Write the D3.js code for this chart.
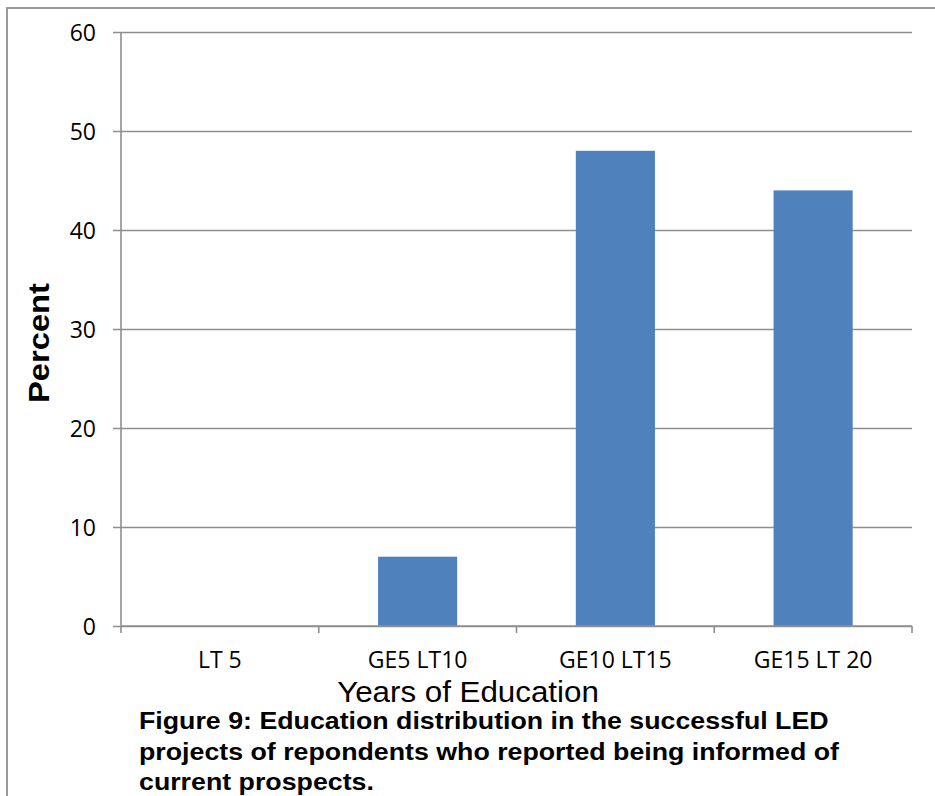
<!DOCTYPE html>
<html>
<head>
<meta charset="utf-8">
<script src="https://cdn.jsdelivr.net/npm/d3@7"></script>
<style>
  html, body { margin: 0; padding: 0; background: #fff; }
  svg { display: block; }
</style>
</head>
<body>
<svg id="chart" width="935" height="796"></svg>
<script>
// Education distribution (percent of respondents)
const categories = ["LT 5", "GE5 LT10", "GE10 LT15", "GE15 LT 20"];
const percentValues = [0, 7, 48, 44];
const yTicks = [0, 10, 20, 30, 40, 50, 60];
const xTitle = "Years of Education";
const yTitle = "Percent";
const captionLines = [
  "Figure 9: Education distribution in the successful LED",
  "projects of repondents who reported being informed of",
  "current prospects."
];

const svg = d3.select("#chart");
const gridColor = "#8f8f8f";
const tickFont = "'Open Sans', 'Noto Sans', sans-serif";
const titleFont = "'Liberation Sans', Arial, sans-serif";

// outer chart frame (continues past the right and bottom edges)
svg.append("rect")
  .attr("x", 7).attr("y", 8)
  .attr("width", 960).attr("height", 820)
  .attr("fill", "none")
  .attr("stroke", gridColor)
  .attr("stroke-width", 1.8);

const plot = { left: 121, right: 912, top: 32, bottom: 626 };

const x = d3.scaleBand()
  .domain(categories)
  .range([plot.left, plot.right])
  .paddingInner(0.6)
  .paddingOuter(0.3);

const y = d3.scaleLinear()
  .domain([0, 60])
  .range([plot.bottom, plot.top]);

// horizontal gridlines with left ticks and labels
const yAxis = d3.axisLeft(y)
  .tickValues(yTicks)
  .tickSize(0)
  .tickFormat(d3.format("d"));

const yG = svg.append("g")
  .attr("transform", `translate(${plot.left},0)`)
  .call(yAxis);
yG.select(".domain").remove();
yG.selectAll(".tick line").remove();
yG.selectAll(".tick").append("line")
  .attr("x1", -8).attr("x2", plot.right - plot.left)
  .attr("stroke", gridColor).attr("stroke-width", 1.6);
yG.selectAll(".tick text")
  .attr("x", -25)
  .attr("dy", "0.36em")
  .attr("fill", "#000")
  .style("font-family", tickFont)
  .style("font-size", "23px");

// vertical axis line
svg.append("line")
  .attr("x1", plot.left).attr("x2", plot.left)
  .attr("y1", plot.top).attr("y2", plot.bottom)
  .attr("stroke", gridColor).attr("stroke-width", 1.6);

// bars
svg.append("g")
  .selectAll("rect")
  .data(categories.map((c, i) => ({ c, v: percentValues[i] })))
  .join("rect")
  .attr("x", d => x(d.c))
  .attr("y", d => y(d.v))
  .attr("width", x.bandwidth())
  .attr("height", d => y(0) - y(d.v))
  .attr("fill", "#4f81bd");

// category axis: labels centred in each band, ticks on band boundaries
const xAxis = d3.axisBottom(x).tickSize(0);
const xG = svg.append("g")
  .attr("transform", `translate(0,${plot.bottom})`)
  .call(xAxis);
xG.select(".domain").remove();
xG.selectAll(".tick text")
  .attr("y", 42)
  .attr("dy", 0)
  .attr("fill", "#000")
  .style("font-family", tickFont)
  .style("font-size", "23px");

const boundaries = d3.range(categories.length + 1)
  .map(i => plot.left + i * x.step());
xG.selectAll(".boundary")
  .data(boundaries)
  .join("line")
  .attr("class", "boundary")
  .attr("x1", d => d).attr("x2", d => d)
  .attr("y1", 0).attr("y2", 7)
  .attr("stroke", gridColor).attr("stroke-width", 1.6);
xG.append("line")
  .attr("x1", plot.left).attr("x2", plot.right)
  .attr("stroke", gridColor).attr("stroke-width", 1.6);

// axis titles
svg.append("g")
  .attr("transform", "translate(468,702) scale(1.08,1)")
  .append("text")
  .attr("text-anchor", "middle")
  .style("font-family", titleFont)
  .style("font-size", "29px")
  .text(xTitle);

svg.append("g")
  .attr("transform", "translate(49,343) rotate(-90) scale(1.09,1)")
  .append("text")
  .attr("text-anchor", "middle")
  .style("font-family", titleFont)
  .style("font-size", "30px")
  .style("font-weight", "bold")
  .text(yTitle);

// figure caption
const cap = svg.append("g")
  .attr("transform", "translate(139,0)");
captionLines.forEach((line, i) => {
  cap.append("g")
    .attr("transform", `translate(0,${729 + i * 30.5}) scale(1.115,1)`)
    .append("text")
    .style("font-family", titleFont)
    .style("font-size", "24px")
    .style("font-weight", "bold")
    .text(line);
});
</script>
</body>
</html>
